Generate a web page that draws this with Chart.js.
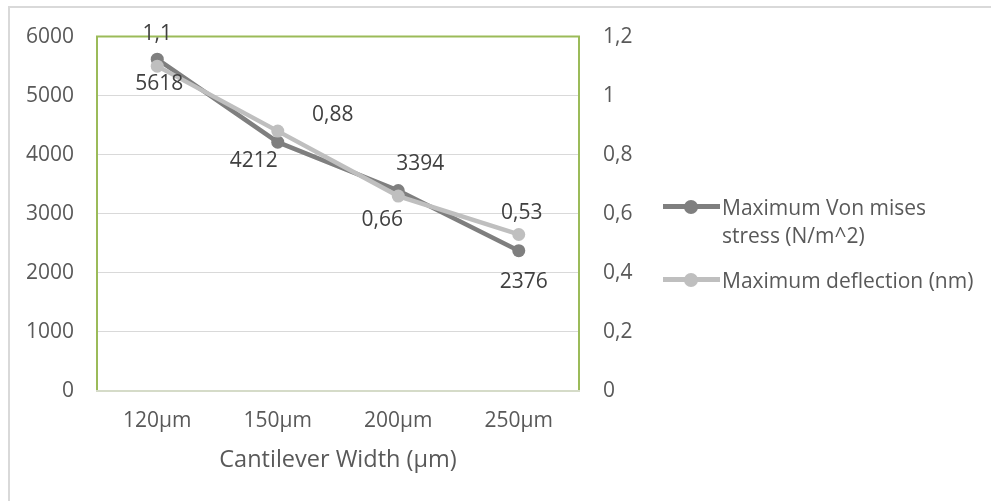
<!DOCTYPE html>
<html>
<head>
<meta charset="utf-8">
<script src="https://cdn.jsdelivr.net/npm/chart.js@4/dist/chart.umd.min.js"></script>
<style>
  html, body { margin: 0; padding: 0; background: #fff; overflow: hidden; }
  #wrap { position: relative; width: 991px; height: 501px; }
  #frame { position: absolute; left: 8px; top: 6px; width: 2000px; height: 2000px;
           border-left: 2px solid #d9d9d9; border-top: 2px solid #d9d9d9; }
  canvas { position: absolute; left: 0; top: 0; }
  .leg { position: absolute; left: 663px; font: 21px 'Open Sans', sans-serif; color: #595959; line-height: 28px; }
  .leg .sw { position: absolute; left: 0; width: 57px; height: 5px; }
  .leg .sw i { position: absolute; left: 21px; top: -4.5px; width: 14px; height: 14px; border-radius: 50%; }
  .leg .tx { position: absolute; left: 59px; width: 260px; white-space: normal; }
</style>
</head>
<body>
<div id="wrap">
  <div id="frame"></div>
  <canvas id="chart" width="991" height="501"></canvas>
  <div class="leg" style="top:193px">
    <div class="sw" style="top:11px;background:#7f7f7f"><i style="background:#7f7f7f"></i></div>
    <div class="tx">Maximum Von mises<br>stress (N/m^2)</div>
  </div>
  <div class="leg" style="top:266px">
    <div class="sw" style="top:11px;background:#bfbfbf"><i style="background:#bfbfbf"></i></div>
    <div class="tx" style="white-space:nowrap">Maximum deflection (nm)</div>
  </div>
</div>
<script>
const widths = ['120µm', '150µm', '200µm', '250µm'];
const stress = [5618, 4212, 3394, 2376];
const deflection = [1.1, 0.88, 0.66, 0.53];
const stressTicks = [0, 1000, 2000, 3000, 4000, 5000, 6000];
const deflTicks = [0, 0.2, 0.4, 0.6, 0.8, 1, 1.2];

// where Excel put each value label, relative to its point
const stressLabelShift = [[2, 25], [-24, 19], [22, -27], [5, 31]];
const deflLabelShift = [[0, -32], [55, -16], [-16, 24], [3, -21]];

const FONT = "'Open Sans', sans-serif";
const comma = v => String(Number(v.toFixed(2))).replace('.', ',');

const frameAndLabels = {
  id: 'frameAndLabels',
  beforeDatasetsDraw(chart) {
    const { ctx, chartArea: a } = chart;
    ctx.save();
    ctx.strokeStyle = '#9bbb59';
    ctx.lineWidth = 2;
    ctx.beginPath();
    ctx.moveTo(a.left, a.bottom);
    ctx.lineTo(a.left, a.top);
    ctx.lineTo(a.right, a.top);
    ctx.lineTo(a.right, a.bottom);
    ctx.stroke();
    ctx.strokeStyle = '#d5dbc8';
    ctx.beginPath();
    ctx.moveTo(a.left - 1, a.bottom);
    ctx.lineTo(a.right + 1, a.bottom);
    ctx.stroke();
    ctx.restore();
  },
  afterDatasetsDraw(chart) {
    const { ctx } = chart;
    ctx.save();
    ctx.font = '21px ' + FONT;
    ctx.fillStyle = '#404040';
    ctx.textAlign = 'center';
    ctx.textBaseline = 'middle';
    chart.data.datasets.forEach((ds, i) => {
      const shifts = i === 0 ? stressLabelShift : deflLabelShift;
      chart.getDatasetMeta(i).data.forEach((pt, j) => {
        const txt = i === 0 ? String(ds.data[j]) : comma(ds.data[j]);
        ctx.fillText(txt, pt.x + shifts[j][0], pt.y + shifts[j][1]);
      });
    });
    ctx.restore();
  }
};

new Chart(document.getElementById('chart'), {
  type: 'line',
  data: {
    labels: widths,
    datasets: [
      { label: 'Maximum Von mises stress (N/m^2)', data: stress, yAxisID: 'y', order: 2,
        borderColor: '#7f7f7f', backgroundColor: '#7f7f7f', borderWidth: 4.5,
        pointRadius: 6.5, pointBorderWidth: 0, tension: 0 },
      { label: 'Maximum deflection (nm)', data: deflection, yAxisID: 'y1', order: 1,
        borderColor: '#bfbfbf', backgroundColor: '#bfbfbf', borderWidth: 4.5,
        pointRadius: 6.5, pointBorderWidth: 0, tension: 0 }
    ]
  },
  options: {
    responsive: false,
    animation: false,
    layout: { padding: { top: 35, right: 312, bottom: 0, left: 0 } },
    plugins: { legend: { display: false }, tooltip: { enabled: false } },
    scales: {
      x: {
        offset: true,
        grid: { display: false, drawTicks: false },
        border: { display: false },
        ticks: { color: '#595959', font: { family: FONT, size: 21 }, padding: 17, maxRotation: 0 },
        title: { display: true, text: 'Cantilever Width (µm)', color: '#595959',
                 font: { family: FONT, size: 23.5 }, padding: { bottom: 27 } },
        afterFit: s => { s.height = 110; }
      },
      y: {
        position: 'left', min: 0, max: 6000,
        afterBuildTicks: s => { s.ticks = stressTicks.map(v => ({ value: v })); },
        grid: { color: '#d9d9d9', lineWidth: 1, drawTicks: false },
        border: { display: false },
        ticks: { color: '#595959', font: { family: FONT, size: 21 }, padding: 23, callback: v => String(v) },
        afterFit: s => { s.width = 97; }
      },
      y1: {
        position: 'right', min: 0, max: 1.2,
        afterBuildTicks: s => { s.ticks = deflTicks.map(v => ({ value: v })); },
        grid: { display: false, drawTicks: false },
        border: { display: false },
        ticks: { color: '#595959', font: { family: FONT, size: 21 }, padding: 24, callback: v => comma(v) },
        afterFit: s => { s.width = 100; }
      }
    }
  },
  plugins: [frameAndLabels]
});
</script>
</body>
</html>
